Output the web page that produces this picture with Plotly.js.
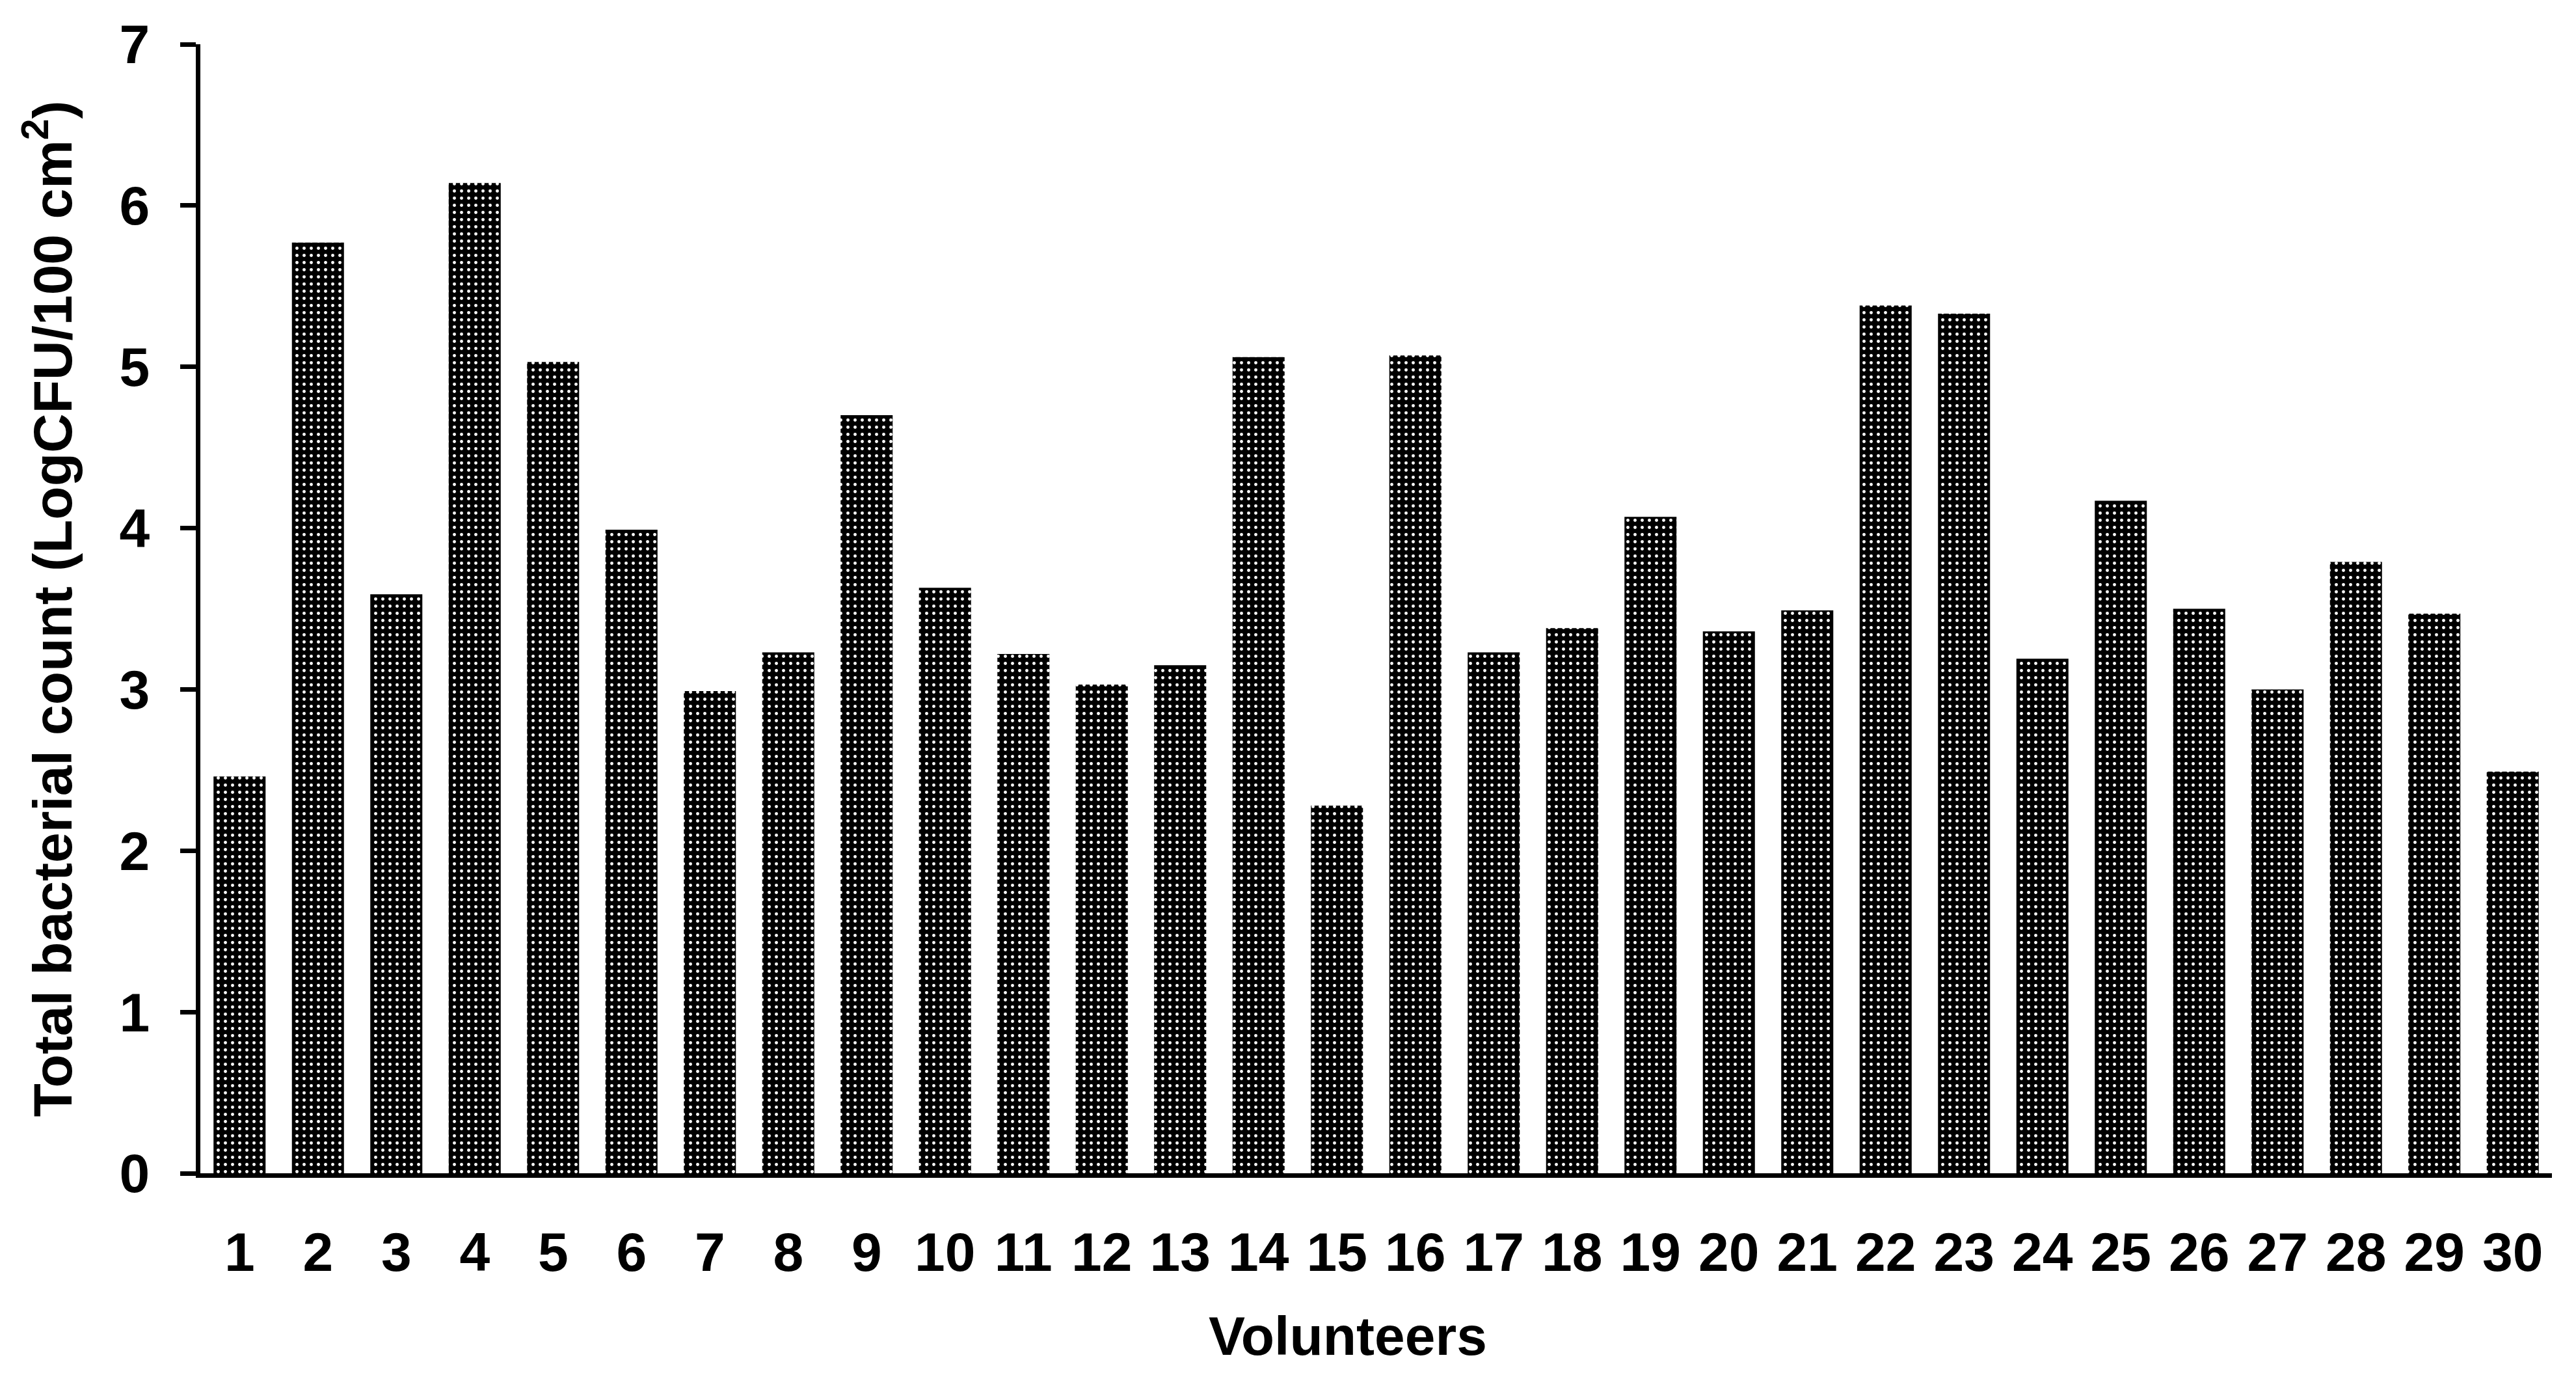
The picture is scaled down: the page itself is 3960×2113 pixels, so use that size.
<!DOCTYPE html>
<html>
<head>
<meta charset="utf-8">
<script src="https://cdn.plot.ly/plotly-3.0.1.min.js"></script>
<style>
  html, body { margin: 0; padding: 0; background: #fff; }
  #chart { width: 3960px; height: 2113px; }
</style>
</head>
<body>
<div id="chart"></div>
<script>
  // volunteer ids and total bacterial count (LogCFU/100 cm2)
  var volunteers = ["1", "2", "3", "4", "5", "6", "7", "8", "9", "10",
    "11", "12", "13", "14", "15", "16", "17", "18", "19", "20",
    "21", "22", "23", "24", "25", "26", "27", "28", "29", "30"];
  var counts = [2.46, 5.77, 3.59, 6.14, 5.03, 3.99, 2.99, 3.23, 4.70, 3.63,
    3.22, 3.03, 3.15, 5.06, 2.28, 5.07, 3.23, 3.38, 4.07, 3.36,
    3.49, 5.38, 5.33, 3.19, 4.17, 3.50, 3.00, 3.79, 3.47, 2.49];
  var yTicks = [0, 1, 2, 3, 4, 5, 6, 7];

  var font = { family: "Liberation Sans, Arial, sans-serif", size: 84, color: "#000", weight: "bold" };

  var trace = {
    type: "bar",
    x: volunteers,
    y: counts,
    marker: {
      color: "#000",
      line: { width: 0 },
      pattern: { shape: ".", bgcolor: "#000", fgcolor: "#fff", fillmode: "replace", size: 11, solidity: 0.16 }
    },
    hoverinfo: "x+y"
  };

  var layout = {
    width: 3960,
    height: 2113,
    margin: { l: 308, r: 37, t: 68, b: 310 },
    paper_bgcolor: "#fff",
    plot_bgcolor: "#fff",
    font: font,
    showlegend: false,
    bargap: 0.336,
    xaxis: {
      type: "category",
      showline: true,
      linecolor: "#000",
      linewidth: 7,
      ticks: "",
      ticklabelstandoff: 42,
      showgrid: false,
      zeroline: false,
      tickfont: font,
      automargin: false
    },
    yaxis: {
      range: [0, 7],
      tickvals: yTicks,
      showline: true,
      linecolor: "#000",
      linewidth: 7,
      ticks: "outside",
      ticklen: 24,
      tickwidth: 7,
      tickcolor: "#000",
      ticklabelstandoff: 30,
      showgrid: false,
      zeroline: false,
      tickfont: font,
      automargin: false,
      title: { text: "Total bacterial count (LogCFU/100 cm<sup>2</sup>)", font: font, standoff: 48 }
    },
    // x-axis title sits a little left of the plot centre in the original
    annotations: [{
      text: "Volunteers",
      xref: "paper", yref: "paper",
      x: 0.488, y: -0.144,
      xanchor: "center", yanchor: "middle",
      showarrow: false,
      font: font
    }]
  };

  Plotly.newPlot("chart", [trace], layout, { displayModeBar: false, responsive: false });
</script>
</body>
</html>
